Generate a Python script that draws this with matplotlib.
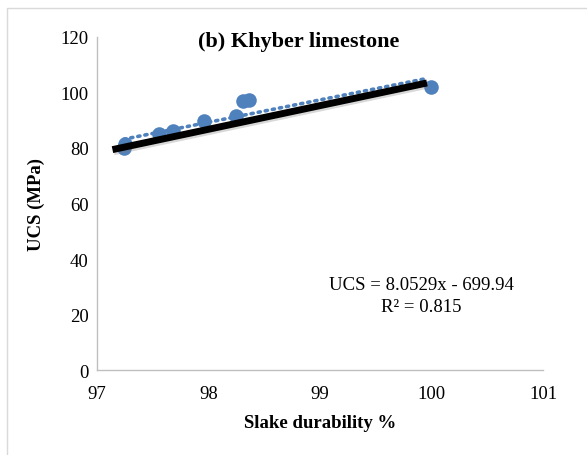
import matplotlib
matplotlib.use("Agg")
import matplotlib.pyplot as plt
import matplotlib.patheffects as pe
import numpy as np

# Data
slake = [97.24, 97.25, 97.56, 97.68, 97.96, 98.25, 98.31, 98.36, 100.0]
ucs = [80.0, 81.5, 85.2, 86.0, 89.6, 91.6, 96.8, 97.3, 102.1]

# Linear trend shown on the chart
slope = 8.0529
intercept = -699.94

# Thick black reference line
black_x = [97.14, 99.96]
black_y = [79.4, 103.4]

x_ticks = [97, 98, 99, 100, 101]
y_ticks = [0, 20, 40, 60, 80, 100, 120]

plt.rcParams["font.family"] = ["Liberation Serif", "DejaVu Serif"]

fig = plt.figure(figsize=(5.87, 4.56), dpi=100)
ax = fig.add_axes([0.165, 0.186, 0.76, 0.731])

# Outer chart border
fig.patches.append(
    plt.Rectangle((7 / 587, -0.1), 1.2, 1 - 9 / 456 + 0.1,
                  transform=fig.transFigure, fill=False,
                  edgecolor="#D9D9D9", linewidth=1.0)
)

ax.scatter(slake, ucs, s=110, color="#4F81BD", zorder=3, linewidths=0)

trend_x = np.array([min(slake), 99.97])
ax.plot(trend_x, slope * trend_x + intercept, color="#4F81BD",
        linewidth=2.6, linestyle=(0, (0.6, 1.4)), dash_capstyle="round",
        zorder=4)

ax.plot(black_x, black_y, color="black", linewidth=5.0, solid_capstyle="butt",
        zorder=5,
        path_effects=[pe.SimpleLineShadow(offset=(1, -1.5), shadow_color="gray",
                                          alpha=0.3), pe.Normal()])

ax.set_xlim(97, 101)
ax.set_ylim(0, 120)
ax.set_xticks(x_ticks)
ax.set_yticks(y_ticks)
ax.tick_params(length=0, labelsize=13.5, pad=6)
ax.tick_params(axis="x", pad=11)
for s in ["top", "right"]:
    ax.spines[s].set_visible(False)
for s in ["left", "bottom"]:
    ax.spines[s].set_color("#BFBFBF")
    ax.spines[s].set_linewidth(1.0)

fig.text(299 / 587, 1 - 42 / 456, "(b) Khyber limestone", ha="center",
         va="center", fontsize=16, fontweight="bold")
fig.text(36 / 587, 1 - 205 / 456, "UCS (MPa)", ha="center", va="center",
         rotation=90, fontsize=13.5, fontweight="bold")
fig.text(320 / 587, 1 - 423 / 456, "Slake durability %", ha="center",
         va="center", fontsize=13.5, fontweight="bold")

fig.text(421 / 587, 1 - 286 / 456, "UCS = 8.0529x - 699.94", ha="center",
         va="center", fontsize=13.5)
fig.text(421 / 587, 1 - 308 / 456, "R² = 0.815", ha="center", va="center",
         fontsize=13.5)

fig.savefig("out.png", dpi=100)
